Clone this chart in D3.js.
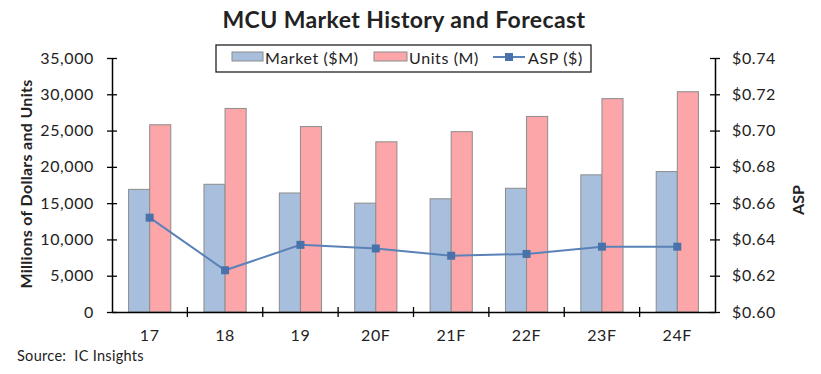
<!DOCTYPE html>
<html>
<head>
<meta charset="utf-8">
<script src="https://cdn.jsdelivr.net/npm/d3@7"></script>
<style>
  body { margin: 0; background: #fff; }
  text { font-family: Lato, "Open Sans", sans-serif; fill: #222; }
</style>
</head>
<body>
<div id="chart"></div>
<script>
// --- Data ---
const years = ["17", "18", "19", "20F", "21F", "22F", "23F", "24F"];
const market = [16900, 17600, 16400, 15000, 15600, 17050, 18900, 19350]; // $M
const units = [25800, 28050, 25550, 23450, 24850, 26950, 29400, 30350]; // M
const asp = [0.652, 0.623, 0.637, 0.635, 0.631, 0.632, 0.636, 0.636]; // $
const leftTicks = [0, 5000, 10000, 15000, 20000, 25000, 30000, 35000];
const rightTicks = [0.60, 0.62, 0.64, 0.66, 0.68, 0.70, 0.72, 0.74];

// --- Definitions ---
const W = 821, H = 374;
const margin = {top: 58, right: 106, bottom: 62, left: 112};
const width = W - margin.left - margin.right;
const height = H - margin.top - margin.bottom;

const svg = d3.select("#chart").append("svg")
  .attr("width", W)
  .attr("height", H);

const g = svg.append("g")
  .attr("transform", `translate(${margin.left},${margin.top})`);

// --- Scales ---
const x = d3.scaleBand().domain(years).range([0, width]);
const y = d3.scaleLinear().domain([0, 35000]).range([height, 0]);
const y2 = d3.scaleLinear().domain([0.60, 0.74]).range([height, 0]);
const barW = x.bandwidth() * 0.28;

// --- Bars ---
g.selectAll(".market")
  .data(years)
  .join("rect")
  .attr("x", (d) => x(d) + x.bandwidth() / 2 - barW)
  .attr("y", (d, i) => y(market[i]))
  .attr("width", barW)
  .attr("height", (d, i) => height - y(market[i]))
  .attr("fill", "#a7bfdd")
  .attr("stroke", "#8c8c8c")
  .attr("stroke-width", 1);

g.selectAll(".units")
  .data(years)
  .join("rect")
  .attr("x", (d) => x(d) + x.bandwidth() / 2)
  .attr("y", (d, i) => y(units[i]))
  .attr("width", barW)
  .attr("height", (d, i) => height - y(units[i]))
  .attr("fill", "#fca6a9")
  .attr("stroke", "#8c8c8c")
  .attr("stroke-width", 1);

// --- ASP line ---
const line = d3.line()
  .x((d, i) => x(years[i]) + x.bandwidth() / 2)
  .y((d) => y2(d));

g.append("path")
  .datum(asp)
  .attr("d", line)
  .attr("fill", "none")
  .attr("stroke", "#5a82b8")
  .attr("stroke-width", 2);

g.selectAll(".pt")
  .data(asp)
  .join("rect")
  .attr("x", (d, i) => x(years[i]) + x.bandwidth() / 2 - 4)
  .attr("y", (d) => y2(d) - 4)
  .attr("width", 8)
  .attr("height", 8)
  .attr("fill", "#4a72aa");

// --- Axes (ticks cross the axis line) ---
function styleAxis(sel) {
  sel.select(".domain").attr("stroke", "#000").attr("stroke-width", 1.5);
  sel.selectAll(".tick line").attr("stroke", "#000").attr("stroke-width", 1.3);
  sel.selectAll("text")
    .attr("font-family", "Lato, sans-serif")
    .attr("fill", "#222")
    .attr("font-size", 16)
    .attr("letter-spacing", 0.6);
}

const yAxis = g.append("g")
  .call(d3.axisLeft(y).tickValues(leftTicks).tickFormat(d3.format(",")).tickSizeInner(5).tickSizeOuter(0).tickPadding(13));
yAxis.selectAll(".tick line").attr("x2", 5).attr("x1", -5);
styleAxis(yAxis);

const yAxis2 = g.append("g")
  .attr("transform", `translate(${width},0)`)
  .call(d3.axisRight(y2).tickValues(rightTicks).tickFormat((d) => "$" + d.toFixed(2)).tickSizeInner(5).tickSizeOuter(0).tickPadding(12));
yAxis2.selectAll(".tick line").attr("x1", -5).attr("x2", 5);
styleAxis(yAxis2);

const xAxis = g.append("g")
  .attr("transform", `translate(0,${height})`)
  .call(d3.axisBottom(x).tickSize(0).tickPadding(18));
styleAxis(xAxis);

// category boundary ticks
xAxis.selectAll(".sep")
  .data(years.slice(1))
  .join("line")
  .attr("x1", (d) => x(d))
  .attr("x2", (d) => x(d))
  .attr("y1", -5)
  .attr("y2", 5)
  .attr("stroke", "#000")
  .attr("stroke-width", 1.3);

// --- Titles ---
svg.append("text")
  .attr("x", 404)
  .attr("y", 28)
  .attr("text-anchor", "middle")
  .attr("font-size", 23)
  .attr("font-weight", "bold")
  .attr("letter-spacing", 0.4)
  .text("MCU Market History and Forecast");

svg.append("text")
  .attr("transform", `translate(32,${margin.top + height / 2 - 1}) rotate(-90)`)
  .attr("text-anchor", "middle")
  .attr("font-size", 16)
  .attr("font-weight", "bold")
  .attr("letter-spacing", 0.3)
  .text("Millions of Dollars and Units");

svg.append("text")
  .attr("transform", `translate(804,200) rotate(-90)`)
  .attr("text-anchor", "middle")
  .attr("font-size", 16)
  .attr("font-weight", "bold")
  .text("ASP");

svg.append("text")
  .attr("x", 17)
  .attr("y", 361)
  .attr("font-size", 14.5)
  .attr("fill", "#333")
  .attr("letter-spacing", 0.3)
  .style("white-space", "pre")
  .text("Source:  IC Insights");

// --- Legend ---
const legend = svg.append("g");
legend.append("rect")
  .attr("x", 216).attr("y", 45).attr("width", 375).attr("height", 27)
  .attr("fill", "#fff").attr("stroke", "#222").attr("stroke-width", 1.3);

legend.append("rect")
  .attr("x", 232).attr("y", 52).attr("width", 31).attr("height", 9)
  .attr("fill", "#a7bfdd").attr("stroke", "#8c8c8c");
legend.append("text").attr("x", 265).attr("y", 64).attr("font-size", 16).attr("letter-spacing", 0.6).text("Market ($M)");

legend.append("rect")
  .attr("x", 374).attr("y", 52).attr("width", 33).attr("height", 9)
  .attr("fill", "#fca6a9").attr("stroke", "#8c8c8c");
legend.append("text").attr("x", 409).attr("y", 64).attr("font-size", 16).attr("letter-spacing", 0.6).text("Units (M)");

legend.append("line")
  .attr("x1", 493).attr("x2", 525).attr("y1", 57).attr("y2", 57)
  .attr("stroke", "#5a82b8").attr("stroke-width", 2);
legend.append("rect")
  .attr("x", 505).attr("y", 53).attr("width", 8).attr("height", 8)
  .attr("fill", "#4a72aa");
legend.append("text").attr("x", 528).attr("y", 64).attr("font-size", 16).attr("letter-spacing", 0.6).text("ASP ($)");
</script>
</body>
</html>
